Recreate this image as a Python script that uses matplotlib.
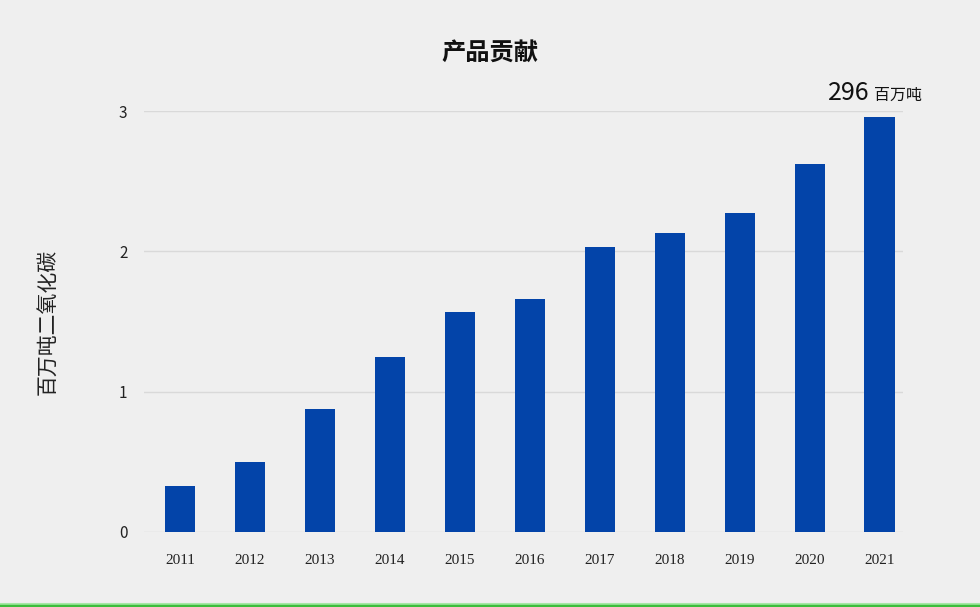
import matplotlib.pyplot as plt
from matplotlib.lines import Line2D

plt.rcParams['font.family'] = ['Noto Sans CJK SC', 'DejaVu Sans']

years = ['2011', '2012', '2013', '2014', '2015', '2016',
         '2017', '2018', '2019', '2020', '2021']
values = [0.33, 0.50, 0.88, 1.245, 1.57, 1.66, 2.03, 2.13, 2.27, 2.62, 2.96]
y_ticks = [0, 1, 2, 3]
total_label = '296'
total_unit = '百万吨'

bg = '#efefef'
fig = plt.figure(figsize=(9.8, 6.07), dpi=100, facecolor=bg)
ax = fig.add_axes([144 / 980, 75 / 607, (903 - 144) / 980, (496 - 75) / 607])
ax.set_facecolor(bg)

x = list(range(len(years)))
ax.bar(x, values, width=0.43, color='#0344a9', zorder=3)

ax.set_xlim(-0.515, 10.336)
ax.set_ylim(0, 3)
ax.set_yticks(y_ticks)
ax.yaxis.grid(True, color='#d9d9d9', linewidth=1, zorder=0)
ax.set_axisbelow(True)
for s in ax.spines.values():
    s.set_visible(False)

ax.set_xticks(x)
ax.set_xticklabels(years, family='Liberation Serif', fontsize=11, color='#222222')
ax.tick_params(axis='x', length=0, pad=16)
ax.tick_params(axis='y', length=0, pad=12, labelsize=11, labelcolor='#222222')

ax.set_ylabel('百万吨二氧化碳', fontsize=15, color='#222222', labelpad=43)

fig.text(0.5, 1 - 53 / 607, '产品贡献', ha='center', va='center',
         fontsize=17.5, fontweight='bold', color='#111111')

# total label over the last bar
ax.annotate(total_label, xy=(x[-1], values[-1]), xytext=(-7, 12),
            textcoords='offset points', ha='right', va='baseline',
            fontsize=18, color='#111111', annotation_clip=False)
ax.annotate(total_unit, xy=(x[-1], values[-1]), xytext=(-4, 12),
            textcoords='offset points', ha='left', va='baseline',
            fontsize=11.5, color='#111111', annotation_clip=False)

# green line at the bottom
fig.add_artist(Line2D([0, 1], [3.5 / 607, 3.5 / 607], color='#a5e8a5',
                      linewidth=1.5, transform=fig.transFigure))
fig.add_artist(Line2D([0, 1], [1.5 / 607, 1.5 / 607], color='#3cbd3c',
                      linewidth=2.5, transform=fig.transFigure))

fig.savefig('out.png', dpi=100, facecolor=bg)
